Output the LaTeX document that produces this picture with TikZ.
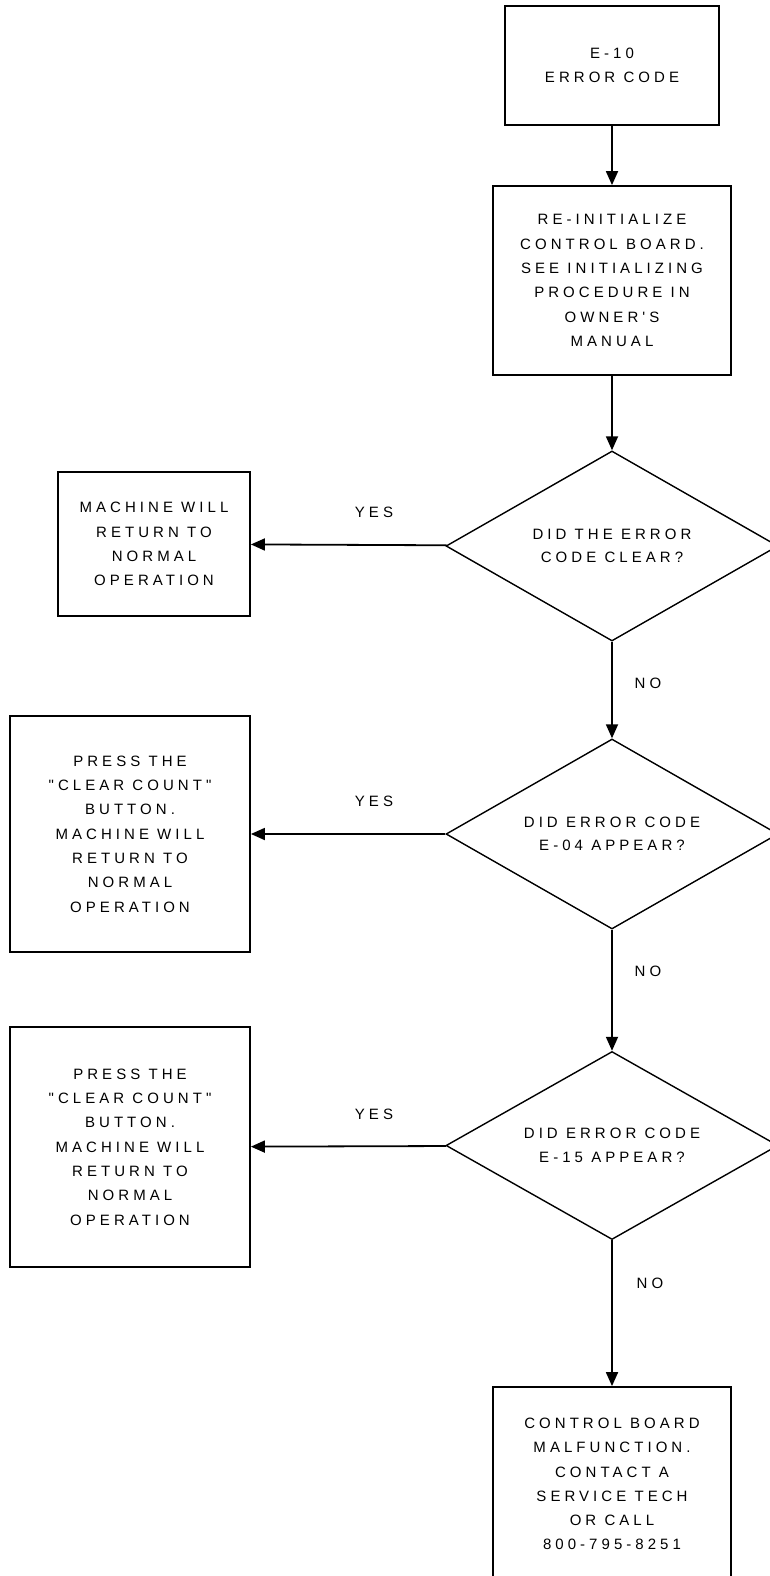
\documentclass[tikz,border=0pt]{standalone}
\usepackage{fontspec}
\usepackage{tikz}
\usetikzlibrary{arrows.meta,positioning,shapes.geometric}
\newfontfamily\chartfont[LetterSpace=27]{Liberation Sans}

\tikzset{
  stepbox/.style={draw, line width=1.8pt, align=center, inner sep=0pt,
    font=\chartfont\fontsize{15}{24.3}\selectfont},
  askbox/.style={draw, diamond, line width=1.4pt, align=center, inner sep=0pt,
    aspect=1.75, font=\chartfont\fontsize{15}{23.5}\selectfont},
  flow/.style={line width=1.8pt, -{Triangle[length=14pt,width=12pt]}},
  tag/.style={font=\chartfont\fontsize{15}{24}\selectfont}
}

\begin{document}
\begin{tikzpicture}[x=1pt,y=-1pt]
  \useasboundingbox (0,0) rectangle (770,1576);
  \path (612,65.5) node (code) [stepbox, minimum width=214pt, minimum height=119pt] {E-10\\ERROR CODE};
  \path (612,280.5) node (reinit) [stepbox, minimum width=238pt, minimum height=189pt]
    {RE-INITIALIZE\\CONTROL BOARD.\\SEE INITIALIZING\\PROCEDURE IN\\OWNER'S\\MANUAL};
  \path (612,546) node (clear) [askbox, minimum width=332pt, minimum height=190pt] {DID THE ERROR\\CODE CLEAR?};
  \path (154,544) node (normal) [stepbox, minimum width=192pt, minimum height=144pt]
    {MACHINE WILL\\RETURN TO\\NORMAL\\OPERATION};
  \path (612,834) node (ecode04) [askbox, minimum width=332pt, minimum height=190pt] {DID ERROR CODE\\E-04 APPEAR?};
  \path (130,834) node (press04) [stepbox, minimum width=240pt, minimum height=236pt]
    {PRESS THE\\"CLEAR COUNT"\\BUTTON.\\MACHINE WILL\\RETURN TO\\NORMAL\\OPERATION};
  \path (612,1145.5) node (ecode15) [askbox, minimum width=332pt, minimum height=188pt] {DID ERROR CODE\\E-15 APPEAR?};
  \path (130,1147) node (press15) [stepbox, minimum width=240pt, minimum height=240pt]
    {PRESS THE\\"CLEAR COUNT"\\BUTTON.\\MACHINE WILL\\RETURN TO\\NORMAL\\OPERATION};
  \path (612,1484) node (malfunc) [stepbox, minimum width=238pt, minimum height=194pt]
    {CONTROL BOARD\\MALFUNCTION.\\CONTACT A\\SERVICE TECH\\OR CALL\\800-795-8251};

  \draw[flow] (code) -- (reinit);
  \draw[flow] (reinit) -- (clear);
  \draw[flow] (clear) -- (normal);
  \draw[flow] (clear) -- (ecode04);
  \draw[flow] (ecode04) -- (press04);
  \draw[flow] (ecode04) -- (ecode15);
  \draw[flow] (ecode15) -- (press15);
  \draw[flow] (ecode15) -- (malfunc);

  \node[tag] (yes1) at (374,512) {YES};
  \node[tag] (yes2) at (374,801) {YES};
  \node[tag] (yes3) at (374,1114) {YES};
  \node[tag] (no1) at (648,683) {NO};
  \node[tag] (no2) at (648,971) {NO};
  \node[tag] (no3) at (650,1283) {NO};
\end{tikzpicture}
\end{document}
